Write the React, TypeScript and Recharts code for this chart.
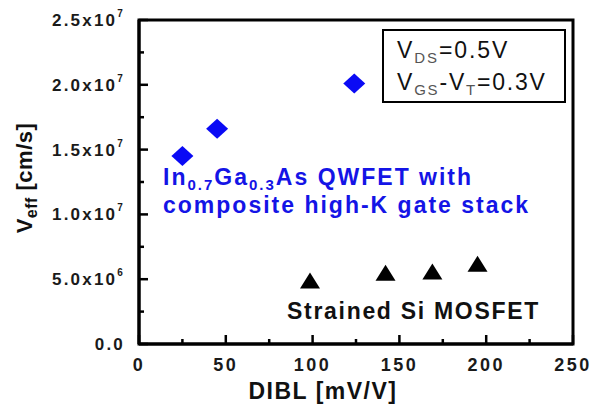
import React from 'react';
import { ScatterChart, Scatter, XAxis, YAxis, ReferenceArea } from 'recharts';

// In0.7Ga0.3As QWFET points
const qwfetDibl = [25, 45, 124];
const qwfetVeff = [1.45e7, 1.66e7, 2.01e7];

// strained Si MOSFET points
const siDibl = [98.5, 142, 169, 195];
const siVeff = [4.9e6, 5.5e6, 5.6e6, 6.2e6];

// ticks every 25 / 2.5e6, labels on every other one
const xMajor = [0, 50, 100, 150, 200, 250];
const yMajor = [0, 5e6, 1e7, 1.5e7, 2e7, 2.5e7];
const yMantissa = ['0.0', '5.0x10', '1.0x10', '1.5x10', '2.0x10', '2.5x10'];
const yExponent = ['', '6', '7', '7', '7', '7'];

const qwfetData = qwfetDibl.map((x, i) => ({ x, y: qwfetVeff[i] }));
const siData = siDibl.map((x, i) => ({ x, y: siVeff[i] }));

const FONT = '"Liberation Sans", Arial, sans-serif';
const BLUE = '#0a0af5';
const TEXT_BLUE = '#1414e6';

const W = 593;
const H = 406;

const renderDiamond = (p: any) => (
  <polygon
    points={`${p.cx},${p.cy - 10} ${p.cx + 11},${p.cy} ${p.cx},${p.cy + 10} ${p.cx - 11},${p.cy}`}
    fill={BLUE}
  />
);

const renderTriangle = (p: any) => (
  <polygon
    points={`${p.cx},${p.cy - 8} ${p.cx + 10},${p.cy + 8} ${p.cx - 10},${p.cy + 8}`}
    fill="#000"
  />
);

const renderYTick = (props: any) => {
  const { x, y, payload } = props;
  const axisX = Number(x) + 14;
  const yy = Number(y);
  const idx = yMajor.indexOf(payload.value);
  const major = idx >= 0;
  return (
    <g key={`yt-${payload.value}`}>
      <line x1={axisX} x2={axisX + (major ? 9 : 5)} y1={yy} y2={yy} stroke="#000" strokeWidth={2.5} />
      {major && (
        <text x={x} y={yy + 6} textAnchor="end" fill="#1a1a1a" fontSize={17} fontWeight="bold" fontFamily={FONT} style={{ letterSpacing: 2.2 }}>
          {yMantissa[idx]}
          {yExponent[idx] && (
            <tspan fontSize={10} dy={-9}>{yExponent[idx]}</tspan>
          )}
        </text>
      )}
    </g>
  );
};

const renderXTick = (props: any) => {
  const { x, y, payload } = props;
  const xx = Number(x);
  const axisY = Number(y) - 10;
  const major = xMajor.includes(payload.value);
  return (
    <g key={`xt-${payload.value}`}>
      <line x1={xx} x2={xx} y1={axisY} y2={axisY - (major ? 9 : 5)} stroke="#000" strokeWidth={2.5} />
      {major && (
        <text x={xx} y={Number(y) + 17} textAnchor="middle" fill="#1a1a1a" fontSize={18} fontWeight="bold" fontFamily={FONT} style={{ letterSpacing: 2.5 }}>
          {payload.value}
        </text>
      )}
    </g>
  );
};

// titles, condition box and series labels
const Overlay = () => (
  <svg width={W} height={H} style={{ position: 'absolute', left: 0, top: 0, pointerEvents: 'none' }} fontFamily={FONT}>
    <text transform="translate(32,178) rotate(-90)" textAnchor="middle" fontSize={22} fontWeight="bold" fill="#111" style={{ letterSpacing: 0.5 }}>
      V
      <tspan fontSize={16} dy={5}>eff</tspan>
      <tspan dy={-5}> [cm/s]</tspan>
    </text>

    <text x={323} y={399} textAnchor="middle" fontSize={23} fontWeight="bold" fill="#111" style={{ letterSpacing: 1.5 }}>
      DIBL [mV/V]
    </text>

    <rect x={383} y={30} width={182} height={72} fill="none" stroke="#000" strokeWidth={2} />
    <text x={397} y={58} fontSize={23} fill="#111" style={{ letterSpacing: 1.9 }}>
      V
      <tspan fontSize={15} dy={5} fill="#555">DS</tspan>
      <tspan dy={-5}>=0.5V</tspan>
    </text>
    <text x={397} y={90} fontSize={23} fill="#111" style={{ letterSpacing: 1.8 }}>
      V
      <tspan fontSize={15} dy={5} fill="#555">GS</tspan>
      <tspan dy={-5}>-V</tspan>
      <tspan fontSize={15} dy={5} fill="#555">T</tspan>
      <tspan dy={-5}>=0.3V</tspan>
    </text>

    <text x={163} y={185} fontSize={23} fontWeight="bold" fill={TEXT_BLUE} style={{ letterSpacing: 2 }}>
      In
      <tspan fontSize={15} dy={5}>0.7</tspan>
      <tspan dy={-5}>Ga</tspan>
      <tspan fontSize={15} dy={5}>0.3</tspan>
      <tspan dy={-5}>As QWFET with</tspan>
    </text>
    <text x={163} y={213} fontSize={23} fontWeight="bold" fill={TEXT_BLUE} style={{ letterSpacing: 2 }}>
      composite high-K gate stack
    </text>

    <text x={287} y={319} fontSize={23} fontWeight="bold" fill="#111" style={{ letterSpacing: 1.7 }}>
      Strained Si MOSFET
    </text>
  </svg>
);

export default function App() {
  return (
    <div style={{ position: 'absolute', left: 0, top: 0, width: W, height: H, background: '#fff' }}>
      <ScatterChart width={W} height={H} margin={{ top: 20, right: 20, bottom: 0, left: 0 }}>
        <XAxis
          type="number"
          dataKey="x"
          domain={[0, 250]}
          tickCount={11}
          height={62}
          tickSize={0}
          tickMargin={10}
          tick={renderXTick}
          stroke="#000"
          strokeWidth={3}
        />
        <YAxis
          type="number"
          dataKey="y"
          domain={[0, 2.5e7]}
          tickCount={11}
          width={139}
          tickSize={0}
          tickMargin={14}
          tick={renderYTick}
          stroke="#000"
          strokeWidth={3}
        />
        <ReferenceArea x1={0} x2={250} y1={0} y2={2.5e7} fill="none" stroke="#000" strokeWidth={3} />
        <Scatter data={qwfetData} shape={renderDiamond} isAnimationActive={false} />
        <Scatter data={siData} shape={renderTriangle} isAnimationActive={false} />
      </ScatterChart>
      <Overlay />
    </div>
  );
}
